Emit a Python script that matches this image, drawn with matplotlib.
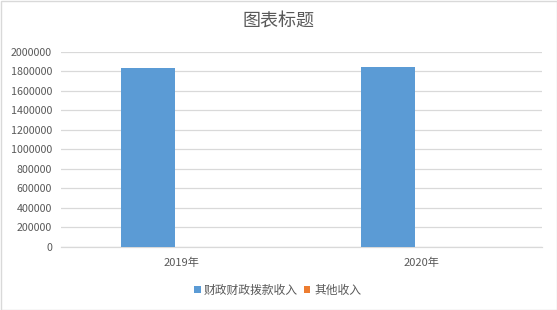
import matplotlib
matplotlib.use("Agg")
import matplotlib.pyplot as plt
import numpy as np
from matplotlib.patches import Rectangle

plt.rcParams['font.family'] = ['Noto Sans CJK SC', 'DejaVu Sans']

categories = ['2019年', '2020年']
series_names = ['财政财政拨款收入', '其他收入']
fiscal = [1830000, 1840000]
other = [0, 0]
yticks = [0, 200000, 400000, 600000, 800000, 1000000, 1200000, 1400000, 1600000, 1800000, 2000000]

colors = ['#5b9bd5', '#ed7d31']
txt = '#595959'

fig = plt.figure(figsize=(5.57, 3.10), dpi=100)
fig.patches.append(Rectangle((0.5/557, 0.5/310), 1 - 1/557, 1 - 1/310, transform=fig.transFigure,
                             fill=False, edgecolor='#d9d9d9', linewidth=1))
ax = fig.add_axes([61/557, 1 - 247/310, (542 - 61)/557, (247 - 51.5)/310])

x = np.arange(len(categories))
w = 0.225
ax.bar(x - 0.14, fiscal, w, color=colors[0], label=series_names[0], zorder=3)
ax.bar(x - 0.14 + w, other, w, color=colors[1], label=series_names[1], zorder=3)

ax.set_xlim(-0.5, 1.5)
ax.set_ylim(0, 2000000)
ax.set_yticks(yticks)
ax.set_yticklabels([str(v) for v in yticks])
ax.set_xticks(x)
ax.set_xticklabels(categories)
ax.yaxis.grid(True, color='#d9d9d9', linewidth=0.9, zorder=0)
ax.set_axisbelow(True)
for s in ['top', 'right', 'left']:
    ax.spines[s].set_visible(False)
ax.spines['bottom'].set_color('#d9d9d9')
ax.spines['bottom'].set_linewidth(0.9)
ax.tick_params(axis='both', length=0, colors=txt)
ax.tick_params(axis='y', pad=6.5, labelsize=7.7)
ax.tick_params(axis='x', pad=8, labelsize=8)

fig.text(279/557, 1 - 21.5/310, '图表标题', ha='center', va='center', fontsize=13, color=txt)

leg = fig.legend(loc='center', bbox_to_anchor=(277.5/557, 1 - 290/310), ncol=2, frameon=False,
                 fontsize=8.5, handlelength=0.55, handleheight=0.55, handletextpad=0.3,
                 columnspacing=0.5, labelcolor=txt)

fig.savefig('out.png', dpi=100)
